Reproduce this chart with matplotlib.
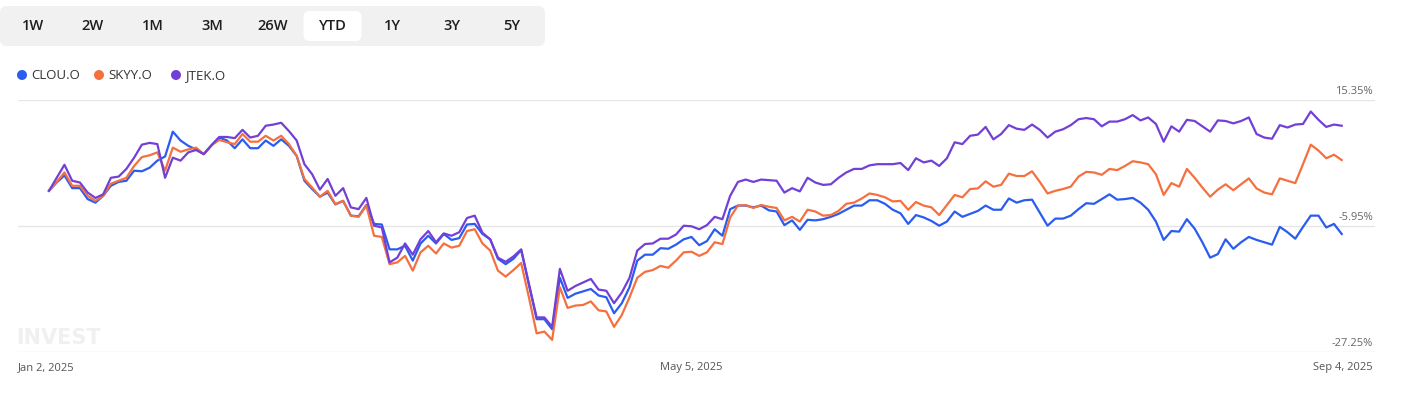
import matplotlib
matplotlib.use("Agg")
import matplotlib.pyplot as plt
from matplotlib.patches import FancyBboxPatch, Circle
import matplotlib.transforms as mtransforms
import pandas as pd

# trading days, Jan 2 - Sep 4 2025
holidays = ["2025-01-09", "2025-01-20", "2025-02-17", "2025-04-18",
            "2025-05-26", "2025-06-19", "2025-07-04", "2025-09-01"]
dates = pd.bdate_range("2025-01-02", "2025-09-04").drop(pd.to_datetime(holidays))

# cumulative return, %
jtek = [0, 2.2, 4.4, 1.7, 1.4, -0.3, -1.2, -0.6, 2.2, 2.4,
        3.7, 5.6, 7.8, 8.1, 7.9, 2.2, 5.6, 5.1, 6.5, 6.9,
        6.2, 7.7, 9.1, 9.1, 8.9, 10.3, 9.0, 9.3, 11.0, 11.2,
        11.5, 10.1, 8.5, 4.5, 2.8, 0.2, 2.0, -0.85, 0.45, -2.8,
        -3.1, -1.2, -5.9, -6.2, -12.1, -11.3, -8.9, -10.8, -8.2, -6.8,
        -8.7, -7.2, -7.6, -7.0, -4.6, -4.2, -7.1, -8.2, -11.3, -12.0,
        -11.1, -9.9, -15.8, -21.4, -21.4, -23.0, -13.2, -16.9, -16.1, -15.5,
        -14.9, -16.7, -16.9, -19.0, -17.2, -14.7, -10.1, -9.0, -8.9, -8.1,
        -8.1, -7.4, -5.9, -6.0, -6.5, -5.8, -4.4, -4.8, -0.85, 1.5,
        1.9, 1.5, 1.9, 1.8, 1.7, -0.3, 0.45, -0.1, 2.2, 1.4,
        1.0, 1.1, 2.2, 3.1, 3.7, 3.7, 4.3, 4.5, 4.5, 4.5,
        4.7, 3.5, 5.5, 4.8, 5.1, 4.2, 5.5, 8.2, 7.9, 9.3,
        9.5, 10.8, 8.7, 9.6, 11.1, 10.5, 10.3, 11.2, 10.3, 9.0,
        10.0, 10.4, 11.1, 12.1, 12.3, 12.1, 10.9, 11.7, 11.7, 12.1,
        12.8, 11.9, 12.4, 11.3, 8.3, 10.9, 10.0, 12.0, 11.8, 10.9,
        10.0, 11.9, 11.8, 11.4, 11.8, 12.4, 9.6, 9.0, 8.8, 11.1,
        10.7, 11.2, 11.3, 13.4, 12.0, 10.8, 11.2, 11.0]

skyy = [0, 1.5, 3.1, 0.85, 0.85, -0.85, -1.7, -0.85, 1.2, 1.7,
        2.2, 4.2, 5.7, 6.0, 6.5, 3.4, 7.3, 6.6, 7.0, 7.3,
        6.2, 7.7, 8.6, 8.2, 7.9, 9.6, 8.3, 8.3, 9.3, 8.5,
        9.3, 7.9, 5.9, 2.0, 0.55, -1.0, 0.0, -2.25, -1.7, -4.2,
        -4.4, -2.5, -7.6, -7.8, -12.4, -12.1, -11.0, -13.5, -10.4, -9.3,
        -10.6, -8.9, -9.6, -9.3, -6.8, -6.5, -8.9, -10.1, -13.5, -14.5,
        -13.4, -12.2, -18.0, -24.1, -23.8, -25.2, -16.3, -19.8, -19.4, -19.3,
        -18.7, -20.2, -20.4, -23.0, -21.0, -18.0, -14.7, -13.7, -13.4, -12.7,
        -13.0, -11.8, -10.4, -10.3, -11.0, -10.4, -8.7, -9.0, -4.5, -2.5,
        -2.4, -2.9, -2.4, -2.7, -2.9, -5.0, -4.4, -5.2, -3.2, -3.5,
        -4.2, -4.1, -3.4, -2.2, -2.0, -1.3, -0.45, -0.7, -1.1, -1.8,
        -1.7, -3.2, -1.9, -2.5, -2.8, -4.1, -2.4, -0.7, -1.1, 0.3,
        0.4, 1.6, 0.7, 1.0, 2.9, 2.5, 2.5, 3.3, 1.5, -0.45,
        0.0, 0.3, 0.7, 2.4, 3.2, 3.1, 2.7, 3.7, 3.5, 4.2,
        5.0, 4.8, 4.5, 2.8, -0.7, 1.3, 0.7, 3.7, 2.2, 0.55,
        -1.0, 0.2, 1.1, 0.1, 1.1, 2.1, 0.4, -0.3, -0.6, 2.1,
        1.7, 1.3, 4.5, 7.8, 6.8, 5.5, 6.1, 5.2]

clou = [0, 1.4, 2.6, 0.45, 0.45, -1.4, -2.0, -0.85, 0.85, 1.5,
        1.7, 3.4, 3.3, 3.9, 5.1, 5.8, 10.0, 8.5, 7.6, 7.0,
        6.2, 7.7, 9.0, 8.5, 7.2, 8.7, 7.2, 7.2, 8.5, 7.6,
        8.7, 7.6, 5.9, 1.7, 0.3, -1.0, -0.3, -2.3, -1.7, -4.2,
        -4.3, -2.4, -5.6, -5.7, -9.9, -9.9, -9.3, -11.8, -8.9, -7.6,
        -8.9, -7.3, -8.3, -8.0, -5.7, -5.6, -7.3, -8.2, -11.5, -12.4,
        -11.5, -10.0, -15.8, -21.7, -21.7, -23.4, -14.7, -18.1, -17.4, -17.0,
        -16.6, -17.7, -18.0, -20.7, -19.0, -16.3, -11.8, -10.8, -10.8, -9.7,
        -9.8, -9.1, -8.2, -7.8, -9.2, -8.5, -6.5, -7.6, -3.1, -2.5,
        -2.5, -2.8, -2.5, -3.3, -3.5, -5.8, -5.0, -6.6, -4.9, -5.0,
        -4.8, -4.4, -3.9, -3.2, -2.5, -2.5, -1.6, -1.6, -2.2, -3.2,
        -3.8, -5.6, -4.1, -4.5, -5.1, -5.9, -5.2, -3.5, -4.4, -3.9,
        -3.4, -2.5, -3.2, -3.2, -1.3, -2.0, -1.6, -1.5, -3.7, -5.9,
        -4.7, -4.7, -4.2, -3.1, -2.1, -2.2, -1.4, -0.6, -1.5, -1.4,
        -1.2, -2.0, -3.2, -5.2, -8.3, -6.8, -6.9, -4.8, -6.4, -8.7,
        -11.3, -10.7, -8.2, -9.8, -8.7, -7.8, -8.3, -8.7, -9.1, -6.1,
        -7.0, -8.1, -6.1, -4.2, -4.2, -6.2, -5.6, -7.3]

series = [("CLOU.O", clou, "#2a5cf0"),
          ("SKYY.O", skyy, "#f5703f"),
          ("JTEK.O", jtek, "#7340d6")]

y_ticks = [15.35, -5.95, -27.25]
x_tick_dates = ["2025-01-02", "2025-05-05", "2025-09-04"]
tabs = ["1W", "2W", "1M", "3M", "26W", "YTD", "1Y", "3Y", "5Y"]
active_tab = "YTD"

W, H = 1413, 397
fig = plt.figure(figsize=(W / 100, H / 100), dpi=100)

# overlay in pixel coords for the tab bar, legend and watermark
top = fig.add_axes([0, 0, 1, 1])
top.set_xlim(0, W)
top.set_ylim(H, 0)
top.axis("off")

top.add_patch(FancyBboxPatch((0, 6), 545, 40, boxstyle="round,pad=0,rounding_size=7",
                             fc="#f1f1f1", ec="none"))
for k, t in enumerate(tabs):
    cx = 33 + k * 59.9
    if t == active_tab:
        top.add_patch(FancyBboxPatch((cx - 29, 11), 58, 30, boxstyle="round,pad=0,rounding_size=6",
                                     fc="white", ec="none"))
    top.text(cx, 26.5, t, ha="center", va="center", fontsize=10.5,
             family="Open Sans", weight="semibold", color="#1e1e1e")

lx = 22
for name, vals, col in series:
    top.add_patch(Circle((lx, 75), 5, fc=col, ec="none"))
    top.text(lx + 9, 75.5, name, ha="left", va="center", fontsize=9.5,
             family="Open Sans", color="#333333")
    lx += 77

top.text(16, 338, "INVEST", ha="left", va="center", fontsize=15, weight="bold",
         family="DejaVu Sans", color="#f0f0f0")

# main chart
ax = fig.add_axes([18 / W, 1 - 352 / H, (1375 - 18) / W, 252 / H])
ax.set_zorder(2)
ax.patch.set_alpha(0)
idx = range(len(dates))
for name, vals, col in series:
    ax.plot(idx, vals, color=col, lw=1.6, solid_joinstyle="round")

ax.set_xlim(-4.0, len(dates) - 1 + 4.3)
ax.set_ylim(min(y_ticks), max(y_ticks))
ax.set_yticks(y_ticks)
ax.set_xticks([])
ax.tick_params(axis="y", length=0, labelleft=False)
ax.grid(axis="y", color="#e6e6e6", lw=1)
for s in ax.spines.values():
    s.set_visible(False)

ytr = mtransforms.blended_transform_factory(ax.transAxes, ax.transData)
for v in y_ticks:
    ax.text(0.9985, v + 0.45, f"{v:.2f}%", transform=ytr, ha="right", va="bottom",
            fontsize=8, color="#666666", family="Open Sans")

xtr = mtransforms.blended_transform_factory(ax.transData, ax.transAxes)
atr = ax.transAxes
for k, d in enumerate(pd.to_datetime(x_tick_dates)):
    label = f"{d:%b} {d.day}, {d.year}"
    pos = dates.get_loc(d)
    if k == 0:
        ax.text(0.0, -0.04, label, transform=atr, ha="left", va="top",
                fontsize=8, color="#555555", family="Open Sans")
    elif k == len(x_tick_dates) - 1:
        ax.text(0.9985, -0.04, label, transform=atr, ha="right", va="top",
                fontsize=8, color="#555555", family="Open Sans")
    else:
        ax.text(pos, -0.04, label, transform=xtr, ha="center", va="top",
                fontsize=8, color="#555555", family="Open Sans")

fig.savefig("out.png", dpi=100)
